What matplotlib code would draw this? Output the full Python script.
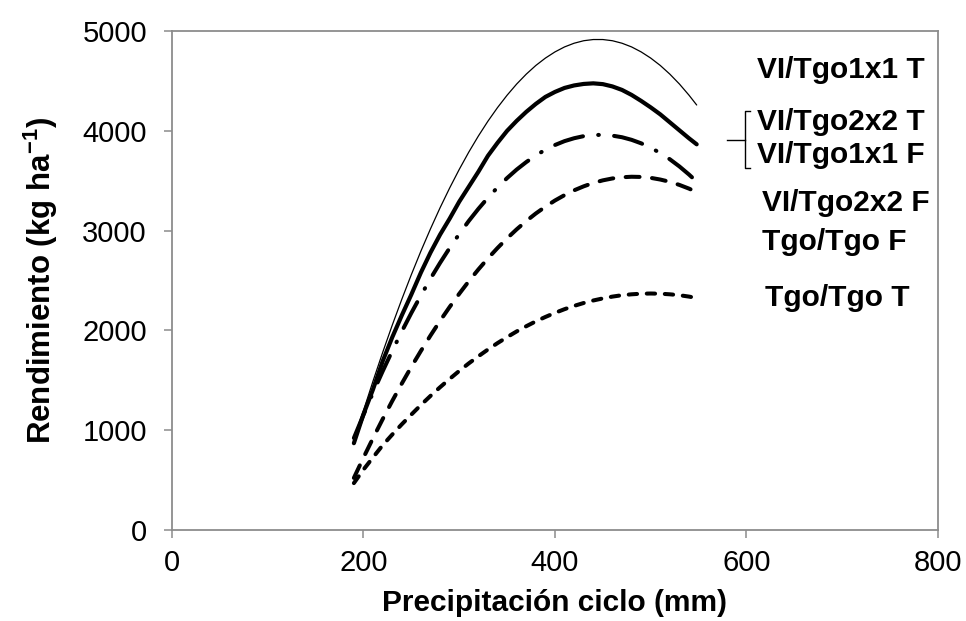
import matplotlib
matplotlib.use("Agg")
import matplotlib.pyplot as plt

plt.rcParams['font.family'] = ['Liberation Sans', 'DejaVu Sans']
plt.rcParams['mathtext.default'] = 'regular'
plt.rcParams['lines.scale_dashes'] = False

# Precipitation (mm) sample positions along the curves
precip = [190, 200, 210, 220, 230, 240, 250, 260, 270, 280, 290, 300, 310, 320,
          330, 340, 350, 360, 370, 380, 390, 400, 410, 420, 430, 440, 450, 460,
          470, 480, 490, 500, 510, 520, 530, 540, 548]

# Yield (kg/ha)
vi_1x1_T = [885, 1195, 1493, 1778, 2051, 2311, 2559, 2795, 3018, 3229, 3427, 3613,
            3787, 3948, 4097, 4233, 4357, 4469, 4568, 4655, 4729, 4791, 4841, 4878,
            4903, 4915, 4915, 4903, 4878, 4841, 4791, 4729, 4655, 4568, 4469, 4357,
            4259]
vi_2x2_T = [870, 1160, 1410, 1690, 1930, 2150, 2360, 2580, 2780, 2960, 3120, 3290,
            3440, 3590, 3750, 3880, 4000, 4100, 4190, 4270, 4340, 4390, 4430, 4455,
            4470, 4476, 4468, 4445, 4410, 4360, 4300, 4235, 4165, 4085, 4005, 3925,
            3865]
vi_1x1_F = [922, 1154, 1376, 1590, 1794, 1989, 2175, 2351, 2519, 2677, 2826, 2966,
            3097, 3218, 3330, 3433, 3527, 3612, 3687, 3754, 3811, 3858, 3897, 3926,
            3947, 3958, 3960, 3952, 3936, 3910, 3875, 3831, 3777, 3715, 3643, 3562,
            3491]
vi_2x2_F = [522, 725, 921, 1110, 1292, 1467, 1635, 1795, 1949, 2096, 2235, 2367,
            2493, 2611, 2722, 2826, 2923, 3013, 3096, 3172, 3240, 3302, 3356, 3404,
            3444, 3478, 3504, 3523, 3535, 3540, 3538, 3529, 3512, 3489, 3458, 3421,
            3386]
tgo_T = [470, 605, 728, 849, 956, 1059, 1157, 1253, 1344, 1431, 1514, 1594,
         1670, 1741, 1809, 1873, 1933, 1990, 2042, 2091, 2135, 2176, 2213, 2246,
         2275, 2300, 2321, 2339, 2353, 2362, 2368, 2370, 2368, 2362, 2353, 2339,
         2325]

labels = ["VI/Tgo1x1 T", "VI/Tgo2x2 T", "VI/Tgo1x1 F", "VI/Tgo2x2 F", "Tgo/Tgo F", "Tgo/Tgo T"]
label_x = [611, 611, 611, 616, 616, 619]
label_y = [4609, 4091, 3758, 3273, 2889, 2321]

x_ticks = [0, 200, 400, 600, 800]
y_ticks = [0, 1000, 2000, 3000, 4000, 5000]

fig = plt.figure(figsize=(9.66, 6.21), dpi=100)
ax = fig.add_axes([0.178, 0.1465, 0.793, 0.8035])

ax.plot(precip, vi_1x1_T, color='black', lw=0.9, solid_capstyle='round')
ax.plot(precip, vi_2x2_T, color='black', lw=3.0, solid_capstyle='round',
        solid_joinstyle='round')
ax.plot(precip, vi_1x1_F, color='black', lw=2.9, dash_capstyle='round',
        linestyle=(0, (21, 11, 0.5, 11)))
ax.plot(precip, vi_2x2_F, color='black', lw=2.9, dash_capstyle='round',
        linestyle=(0, (10, 9)))
ax.plot(precip, tgo_T, color='black', lw=2.9, dash_capstyle='round',
        linestyle=(0, (6, 7)))

ax.set_xlim(0, 800)
ax.set_ylim(0, 5000)
ax.set_xticks(x_ticks)
ax.set_yticks(y_ticks)

spine_color = '#8c8c8c'
for s in ax.spines.values():
    s.set_color(spine_color)
    s.set_linewidth(1.3)
ax.tick_params(axis='both', direction='out', length=6, width=1.1, color=spine_color,
               labelsize=21, labelcolor='black')
ax.tick_params(axis='y', pad=12)
ax.tick_params(axis='x', pad=8)

ax.set_xlabel("Precipitación ciclo (mm)", fontsize=21.5, fontweight='bold', labelpad=8)
ax.set_ylabel("Rendimiento (kg ha$^{-1}$)", fontsize=22.5, fontweight='bold', labelpad=16)

for t, xx, yy in zip(labels, label_x, label_y):
    ax.text(xx, yy, t, fontsize=21.5, fontweight='bold', ha='left', va='center',
            clip_on=False)

# brace grouping two labels
ax.plot([604, 598, 598, 604], [4198, 4198, 3627, 3627], color='black', lw=1.0,
        clip_on=False)
ax.plot([580, 598], [3908, 3908], color='black', lw=1.0, clip_on=False)

fig.savefig("out.png", dpi=100)
